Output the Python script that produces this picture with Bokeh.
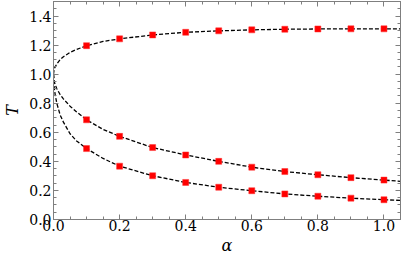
from bokeh.plotting import figure
from bokeh.models import LinearAxis, FixedTicker, Range1d, PrintfTickFormatter
from bokeh.embed import file_html
from bokeh.resources import INLINE

# Data points (red squares)
alpha_pts = [0.1, 0.2, 0.3, 0.4, 0.5, 0.6, 0.7, 0.8, 0.9, 1.0]
T_upper = [1.196, 1.243, 1.270, 1.288, 1.298, 1.305, 1.309, 1.311, 1.312, 1.312]
T_middle = [0.686, 0.572, 0.495, 0.444, 0.400, 0.360, 0.330, 0.308, 0.288, 0.271]
T_lower = [0.488, 0.367, 0.301, 0.255, 0.222, 0.198, 0.176, 0.160, 0.147, 0.136]

# Dashed curves
alpha_c = [0.0, 0.002, 0.005, 0.01, 0.02, 0.03, 0.05, 0.07, 0.1, 0.15, 0.2, 0.3, 0.4,
           0.5, 0.6, 0.7, 0.8, 0.9, 1.0, 1.05]
curve_upper = [1.0, 1.035, 1.05, 1.07, 1.10, 1.12, 1.15, 1.17, 1.196, 1.225, 1.243, 1.270,
               1.288, 1.298, 1.305, 1.309, 1.311, 1.312, 1.312, 1.312]
curve_middle = [1.0, 0.95, 0.93, 0.90, 0.86, 0.83, 0.78, 0.74, 0.686, 0.62, 0.572, 0.495,
                0.444, 0.400, 0.360, 0.330, 0.308, 0.288, 0.271, 0.263]
curve_lower = [1.0, 0.91, 0.86, 0.80, 0.72, 0.67, 0.59, 0.54, 0.488, 0.42, 0.367, 0.301,
               0.255, 0.222, 0.198, 0.176, 0.160, 0.147, 0.136, 0.131]

x_ticks = [0.0, 0.2, 0.4, 0.6, 0.8, 1.0]
y_ticks = [0.0, 0.2, 0.4, 0.6, 0.8, 1.0, 1.2, 1.4]
x_minor = [i * 0.05 for i in range(0, 22)]
y_minor = [i * 0.05 for i in range(0, 31)]

FONT = "DejaVu Serif"

p = figure(width=401, height=257, output_backend="svg", toolbar_location=None,
           x_range=Range1d(0, 1.05), y_range=Range1d(0, 1.5),
           min_border_left=40, min_border_right=1, min_border_top=1, min_border_bottom=30)
p.grid.visible = False
p.outline_line_color = "#7f7f7f"
p.background_fill_color = "white"

for c in (curve_upper, curve_middle, curve_lower):
    p.line(alpha_c, c, line_color="black", line_width=1.3, line_dash="4 2")

for s in (T_upper, T_middle, T_lower):
    p.scatter(alpha_pts, s, marker="square", size=6, fill_color="#ff0000",
              line_color="#ff3030", line_width=0.5)

def style(ax, labels=True):
    ax.axis_line_color = "#7f7f7f"
    ax.major_tick_line_color = "#7f7f7f"
    ax.minor_tick_line_color = "#7f7f7f"
    ax.major_tick_in = 5
    ax.major_tick_out = 0
    ax.minor_tick_in = 3
    ax.minor_tick_out = 0
    ax.major_label_text_font = FONT
    ax.major_label_text_font_size = "14px"
    ax.major_label_text_font_style = "normal"
    ax.major_label_text_color = "black" if labels else None
    ax.axis_label_text_font = FONT
    ax.axis_label_text_font_size = "16px"
    ax.axis_label_text_font_style = "italic"
    ax.axis_label_text_color = "black"

xa = p.xaxis[0]
xa.ticker = FixedTicker(ticks=x_ticks, minor_ticks=x_minor)
xa.formatter = PrintfTickFormatter(format="%.1f")
xa.axis_label = "α"
xa.major_label_standoff = 0
xa.axis_label_standoff = 2
style(xa)

ya = p.yaxis[0]
ya.ticker = FixedTicker(ticks=y_ticks, minor_ticks=y_minor)
ya.formatter = PrintfTickFormatter(format="%.1f")
ya.axis_label = "T"
ya.major_label_standoff = 2
ya.axis_label_standoff = 4
style(ya)

top = LinearAxis(ticker=FixedTicker(ticks=x_ticks, minor_ticks=x_minor))
style(top, labels=False)
top.major_label_text_font_size = "0px"
top.major_label_standoff = 0
p.add_layout(top, "above")

right = LinearAxis(ticker=FixedTicker(ticks=y_ticks, minor_ticks=y_minor))
style(right, labels=False)
right.major_label_text_font_size = "0px"
right.major_label_standoff = 0
p.add_layout(right, "right")

open("out.html", "w").write(file_html(p, INLINE))
